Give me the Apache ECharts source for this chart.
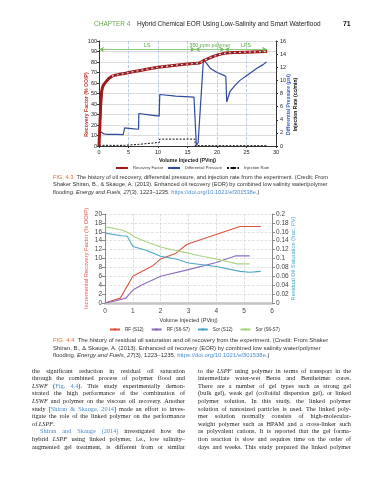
<!DOCTYPE html>
<html><head><meta charset="utf-8">
<script src="https://cdn.jsdelivr.net/npm/echarts@6/dist/echarts.min.js"></script>
<style>
html,body{margin:0;padding:0;background:#fff;}
#page{position:relative;width:389px;height:480px;overflow:hidden;background:#fff;}
#chart{position:absolute;left:0;top:0;width:389px;height:480px;}
#txt{position:absolute;left:0;top:0;width:389px;height:480px;}
.t{position:absolute;white-space:nowrap;}
.sans{font-family:"Liberation Sans",Arial,sans-serif;}
.serif{font-family:"Liberation Serif","Times New Roman",serif;}
.lnk{color:#4a8ccc;}
.fig{color:#e2703e;}
</style></head><body>
<div id="page"><div id="chart"></div><div id="txt"></div></div>
<script>
// ---------- FIG 4.3 data ----------
const rfPV   = [0,0.15,0.3,0.45,0.6,0.8,1.0,1.3,1.7,2.2,2.8,3.5,4.5,5.5,7,8.5,10,11.5,13,14.5,16,16.5,17,17.5,18,19,20,21,22,23,25,27,28.5];
const rfPct  = [0,20,40,52,56,58.5,60,62,64.5,66.5,67.5,68.3,69.3,70.5,72,73.5,75,76,77,77.8,78.5,78.7,79,80.5,82,84.5,86.5,88,88.8,89,89.4,89.8,90];
const dpPV   = [0,0.08,0.3,0.8,1.5,3,4.1,4.2,4.3,4.35,5.5,6.7,6.75,8.5,10.2,10.3,13,16.1,16.3,16.5,16.8,17.7,18.3,18.8,20,21.1,21.5,21.65,22.2,23.0,23.9,25.3,26.7,27.8,28.4];
const dpPsi  = [1.0,2.3,2.0,1.85,1.78,1.76,1.74,1.5,1.45,2.75,2.65,2.55,4.95,4.75,4.55,7.85,7.6,7.45,7.3,0.1,0.5,13.2,12.5,11.9,11.2,10.8,10.6,6.7,8.3,9.2,10.0,10.9,11.8,12.4,12.8];
const injPV  = [0,4.3,4.3,6.75,6.75,10.25,10.25,16.25,16.3,28.5];
const injRate= [0.1,0.1,0.25,0.25,0.55,0.55,1.05,1.05,0.05,0.05];
const phaseNames = ['LS','350 ppm polymer','LPS'];
const phaseStart = [0,16.3,21.3];
const phaseEnd   = [16.3,21.3,28.5];
const phaseLevel = 92;
// ---------- FIG 4.4 data ----------
const rf12PV  = [0,0.55,1.0,1.7,2.0,2.55,2.95,4.85,5.6];
const rf12    = [0,1.1,6.0,8.3,9.9,11.2,13.2,17.2,17.2];
const rf67PV  = [0,0.4,0.75,1.0,1.3,2.0,3.0,4.0,4.7,5.2];
const rf67    = [0,0.5,1.1,2.9,4.0,6.0,7.5,9.1,10.6,10.6];
const sor12PV = [0,0.6,0.8,1.0,1.5,2.0,2.55,3.0,3.5,4.0,4.85,5.2,5.6];
const sor12   = [0.157,0.151,0.150,0.127,0.118,0.105,0.099,0.090,0.086,0.082,0.071,0.069,0.071];
const sor67PV = [0,0.3,0.6,0.85,1.1,1.5,2.0,2.45,3.0,3.4,4.0,4.75,5.2];
const sor67   = [0.171,0.168,0.164,0.158,0.147,0.137,0.126,0.119,0.112,0.106,0.099,0.088,0.088];

const zip = (a,b)=>a.map((v,i)=>[v,b[i]]);
const SANS = '"Liberation Sans", Arial, sans-serif';

const chart = echarts.init(document.getElementById('chart'), null, {renderer:'canvas'});
const axisCommon = {nameLocation:'middle', type:'value', nameMoveOverlap:false};
const option = {
  animation:false,
  textStyle:{fontFamily:SANS},
  grid:[{left:99,top:41,width:177,height:105},{left:105,top:214,width:167,height:89}],
  legend:[
    {data:['Recovery Factor','Differential Pressure','Injection Rate'], left:115, top:166, padding:0,
     itemWidth:12, itemHeight:3, itemGap:4, textStyle:{fontSize:4.1,color:'#333',fontFamily:SANS}},
    {data:['RF (S12)','RF (S6-S7)','Sor (S12)','Sor (S6-S7)'], left:109, top:327, padding:0,
     itemWidth:10, itemHeight:3, itemGap:7, textStyle:{fontSize:4.6,color:'#333',fontFamily:SANS}}
  ],
  xAxis:[
    Object.assign({}, axisCommon, {gridIndex:0, min:0, max:30, interval:5,
      name:'Volume Injected (PVinj)', nameGap:12,
      nameTextStyle:{fontSize:5.2,fontWeight:'bold',color:'#222'},
      axisLine:{lineStyle:{color:'#333'}}, axisTick:{length:2,lineStyle:{color:'#333'}},
      axisLabel:{fontSize:5.5,color:'#222',margin:3},
      splitLine:{show:true,lineStyle:{color:'#b3c3dc',type:'dashed',width:0.8}}}),
    Object.assign({}, axisCommon, {gridIndex:1, min:0, max:6, interval:1,
      name:'Volume Injected (PVinj)', nameGap:14,
      nameTextStyle:{fontSize:5.6,color:'#333'},
      axisLine:{lineStyle:{color:'#c4c4c4',width:2.5}}, axisTick:{show:false},
      axisLabel:{fontSize:6.5,color:'#444',margin:5},
      splitLine:{show:true,lineStyle:{color:'#cfcfcf',type:'dashed',width:0.7}}})
  ],
  yAxis:[
    Object.assign({}, axisCommon, {gridIndex:0, min:0, max:100, interval:10, position:'left',
      name:'Recovery Factor (% OOIP)', nameGap:10,
      nameTextStyle:{fontSize:5.2,color:'#c0392b',fontWeight:'bold',padding:[0,22,0,0]},
      axisLine:{show:true,lineStyle:{color:'#333'}}, axisTick:{show:true,length:2},
      axisLabel:{fontSize:5.5,color:'#222',margin:2},
      splitLine:{show:true,lineStyle:{color:'#dcdcdc'}}}),
    Object.assign({}, axisCommon, {gridIndex:0, min:0, max:16, interval:2, position:'right',
      name:'Differential Pressure (psi)', nameGap:10,
      nameTextStyle:{fontSize:5.0,color:'#3a5fc8',fontWeight:'bold',padding:[0,22,0,0]},
      axisLine:{show:true,lineStyle:{color:'#333'}}, axisTick:{show:true,length:2},
      axisLabel:{fontSize:5.5,color:'#222',margin:4}, splitLine:{show:false}}),
    Object.assign({}, axisCommon, {gridIndex:0, min:0, max:16, interval:2, position:'right',
      name:'Injection Rate (cc/min)', nameGap:17,
      nameTextStyle:{fontSize:5.0,color:'#111',fontWeight:'bold',padding:[0,22,0,0]},
      axisLine:{show:false}, axisTick:{show:false}, axisLabel:{show:false}, splitLine:{show:false}}),
    Object.assign({}, axisCommon, {gridIndex:1, min:0, max:20, interval:2, position:'left',
      name:'Incremental Recovery Factor (% OOIP)', nameGap:16,
      nameTextStyle:{fontSize:5.8,color:'#e05a47'},
      axisLine:{show:true,lineStyle:{color:'#888'}}, axisTick:{show:true,length:3,lineStyle:{color:'#888'}},
      axisLabel:{fontSize:6.5,color:'#444',margin:3},
      splitLine:{show:true,lineStyle:{color:'#d8d8d8',type:'dashed',width:0.7}}}),
    Object.assign({}, axisCommon, {gridIndex:1, min:0, max:0.2, interval:0.02, position:'right',
      name:'Residual Oil Saturation (frac. PV)', nameGap:18,
      nameTextStyle:{fontSize:5.7,color:'#4aa8c8'},
      axisLine:{show:true,lineStyle:{color:'#888'}}, axisTick:{show:true,length:3,lineStyle:{color:'#888'}},
      axisLabel:{fontSize:6.5,color:'#444',margin:4}, splitLine:{show:false}})
  ],
  series:[
    {name:'Recovery Factor', type:'line', xAxisIndex:0, yAxisIndex:0, data:zip(rfPV,rfPct), symbol:'none',
     lineStyle:{color:'#9e1b1b',width:3}, itemStyle:{color:'#9e1b1b'}, z:3,
     markLine:{silent:true, symbol:['arrow','arrow'], symbolSize:[4,5], animation:false,
       lineStyle:{color:'#6fbf5a',width:0.8,type:'solid'},
       label:{show:true, position:'insideMiddleTop', formatter:'{b}', color:'#5aa848', fontSize:5.3, distance:1},
       data: phaseNames.map((n,i)=>[{name:n, coord:[phaseStart[i],phaseLevel]},{coord:[phaseEnd[i],phaseLevel]}])}},
    {name:'rfMarks', type:'line', xAxisIndex:0, yAxisIndex:0, data:zip(rfPV,rfPct).filter(p=>p[0]>=2.2), symbol:'none',
     lineStyle:{color:'#c9d7ec',width:1.2,type:[2,3]}, z:4, silent:true},
    {name:'Differential Pressure', type:'line', xAxisIndex:0, yAxisIndex:1, data:zip(dpPV,dpPsi), symbol:'none',
     lineStyle:{color:'#2f4b9c',width:1.2}, itemStyle:{color:'#2f4b9c'}, z:2},
    {name:'Injection Rate', type:'line', xAxisIndex:0, yAxisIndex:2, data:zip(injPV,injRate), symbol:'none',
     lineStyle:{color:'#111',width:1,type:[2,1.5]}, itemStyle:{color:'#111'}, z:2},
    {name:'RF (S12)', type:'line', xAxisIndex:1, yAxisIndex:3, data:zip(rf12PV,rf12), symbol:'none',
     lineStyle:{color:'#dd5542',width:1.1}, itemStyle:{color:'#dd5542'}},
    {name:'RF (S6-S7)', type:'line', xAxisIndex:1, yAxisIndex:3, data:zip(rf67PV,rf67), symbol:'none',
     lineStyle:{color:'#8b6cc0',width:1.1}, itemStyle:{color:'#8b6cc0'}},
    {name:'Sor (S12)', type:'line', xAxisIndex:1, yAxisIndex:4, data:zip(sor12PV,sor12), symbol:'none',
     lineStyle:{color:'#4ba7c9',width:1.1}, itemStyle:{color:'#4ba7c9'}},
    {name:'Sor (S6-S7)', type:'line', xAxisIndex:1, yAxisIndex:4, data:zip(sor67PV,sor67), symbol:'none',
     lineStyle:{color:'#aad27f',width:1.1}, itemStyle:{color:'#aad27f'}}
  ]
};
chart.setOption(option);

// ---------- page text ----------
const txt = document.getElementById('txt');
function addLine(html, x, yc, cls, fs, color, lh){
  const d = document.createElement('div');
  d.className = 't ' + cls;
  d.style.left = x + 'px';
  d.style.fontSize = fs + 'px';
  d.style.lineHeight = lh + 'px';
  d.style.top = (yc - lh/2) + 'px';
  if (color) d.style.color = color;
  d.innerHTML = html;
  txt.appendChild(d);
  return d;
}
function widthOf(d){ return d.getBoundingClientRect().width; }
function justify(d, w){
  const n = (d.textContent.match(/ /g)||[]).length;
  if (n>0) d.style.wordSpacing = ((w - widthOf(d))/n) + 'px';
}
// header
const hdr = addLine('Hybrid Chemical EOR Using Low-Salinity and Smart Waterflood', 137, 24, 'sans', 10, '#222', 10);
const hfs = 10*184/widthOf(hdr);
hdr.style.fontSize = hfs+'px';
addLine('CHAPTER 4', 94, 24, 'sans', hfs, '#6aa84f', 10);
addLine('<b>71</b>', 343, 24, 'sans', hfs*1.05, '#111', 10);

// captions
const cap1 = [
 '<span class="fig">FIG. 4.3</span>&nbsp; The history of oil recovery, differential pressure, and injection rate from the experiment. (Credit: From',
 'Shaker Shiran, B., &amp; Skauge, A. (2013). Enhanced oil recovery (EOR) by combined low salinity water/polymer',
 'flooding. <i>Energy and Fuels, 27</i>(3), 1223–1235. <span class="lnk">https://doi.org/10.1021/ef301538e</span>.)'
];
const cap2 = [
 '<span class="fig">FIG. 4.4</span>&nbsp; The history of residual oil saturation and oil recovery from the experiment. (Credit: From Shaker',
 'Shiran, B., &amp; Skauge, A. (2013). Enhanced oil recovery (EOR) by combined low salinity water/polymer',
 'flooding. <i>Energy and Fuels, 27</i>(3), 1223–1235. <span class="lnk">https://doi.org/10.1021/ef301538e</span>.)'
];
function caption(lines, y0){
  const ds = lines.map((h,i)=>addLine(h, 53, y0 + i*7.5, 'sans', 10, '#333', 8));
  const fs = 10*276/widthOf(ds[0]);
  ds.forEach(d=>d.style.fontSize = fs+'px');
}
caption(cap1, 176.5);
caption(cap2, 340);

// body text
const leftCol = [
 'the significant reduction in residual oil saturation',
 'through the combined process of polymer flood and',
 '<i>LSWF</i> (<span class="lnk">Fig. 4.4</span>). This study experimentally demon-',
 'strated the high performance of the combination of',
 '<i>LSWF</i> and polymer on the viscous oil recovery. Another',
 'study [<span class="lnk">Shiran &amp; Skauge, 2014</span>] made an effort to inves-',
 'tigate the role of the linked polymer on the performance',
 'of <i>LSPF</i>.',
 '<span class="lnk">Shiran and Skauge (2014)</span> investigated how the',
 'hybrid <i>LSPF</i> using linked polymer, i.e., low salinity–',
 'augmented gel treatment, is different from or similar'
];
const rightCol = [
 'to the <i>LSPF</i> using polymer in terms of transport in the',
 'intermediate water-wet Berea and Bentheimer cores.',
 'There are a number of gel types such as strong gel',
 '(bulk gel), weak gel (colloidal dispersion gel), or linked',
 'polymer solution. In this study, the linked polymer',
 'solution of nanosized particles is used. The linked poly-',
 'mer solution normally consists of high-molecular-',
 'weight polymer such as HPAM and a cross-linker such',
 'as polyvalent cations. It is reported that the gel forma-',
 'tion reaction is slow and requires time on the order of',
 'days and weeks. This study prepared the linked polymer'
];
const BFS = 6.3, BY0 = 370.5, BLH = 7.6;
leftCol.forEach((h,i)=>{
  const indent = (i===8) ? 8 : 0;
  const d = addLine(h, 32+indent, BY0 + i*BLH, 'serif', BFS, '#1a1a1a', 8);
  if (i!==7) justify(d, 153-indent);
});
rightCol.forEach((h,i)=>{
  const d = addLine(h, 198, BY0 + i*BLH, 'serif', BFS, '#1a1a1a', 8);
  justify(d, 153);
});
</script>
</body></html>
